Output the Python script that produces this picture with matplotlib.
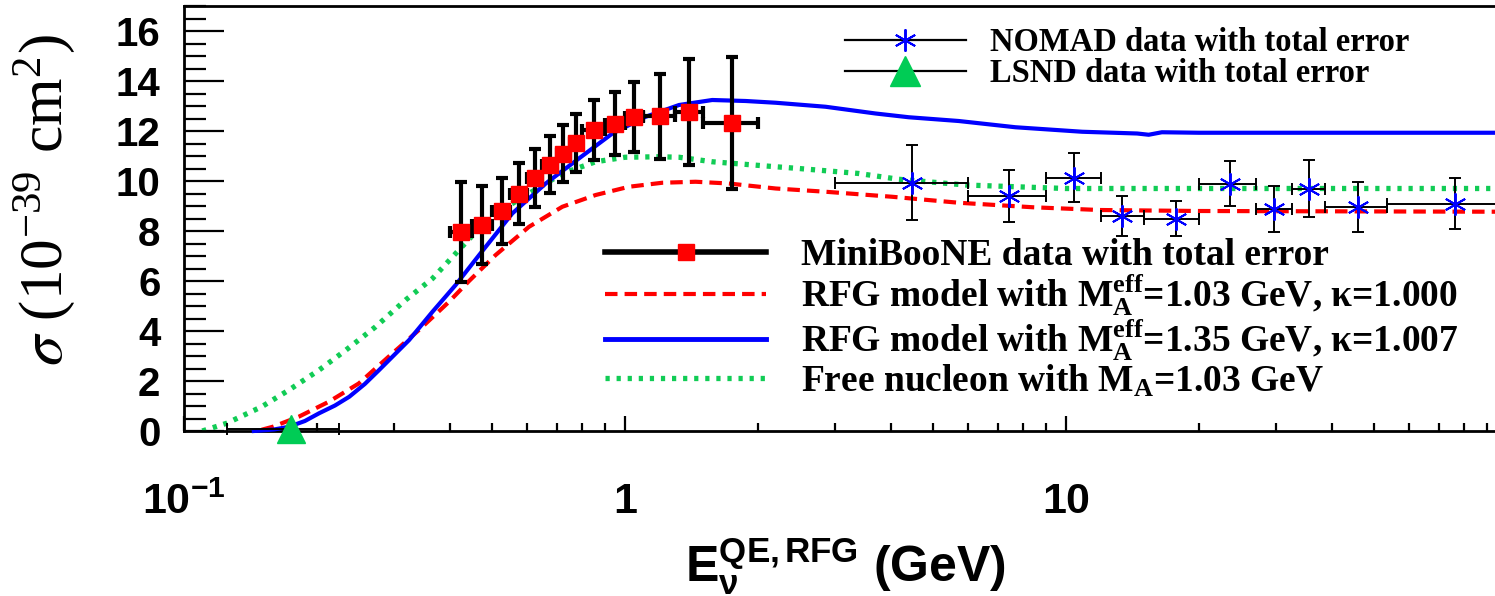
import numpy as np
import matplotlib
matplotlib.use("Agg")
import matplotlib.pyplot as plt
from matplotlib.lines import Line2D
from matplotlib.ticker import FixedLocator, MultipleLocator, NullFormatter, LogLocator

plt.rcParams['mathtext.fontset'] = 'stix'

# ---------------- data ----------------
# MiniBooNE (bin edges, cross section, total error) in 1e-39 cm^2
mb_lo = [0.40, 0.45, 0.50, 0.55, 0.60, 0.65, 0.70, 0.75, 0.80, 0.90, 1.00, 1.10, 1.30, 1.50]
mb_hi = [0.45, 0.50, 0.55, 0.60, 0.65, 0.70, 0.75, 0.80, 0.90, 1.00, 1.10, 1.30, 1.50, 2.00]
mb_xsec = [7.98, 8.25, 8.80, 9.50, 10.13, 10.66, 11.10, 11.53, 12.04, 12.30, 12.57, 12.60, 12.77, 12.33]
mb_err = [2.00, 1.55, 1.33, 1.21, 1.16, 1.15, 1.15, 1.17, 1.20, 1.26, 1.40, 1.70, 2.13, 2.63]

# NOMAD
nomad_lo = [3.0, 6.0, 9.0, 12.0, 15.0, 20.0, 27.0, 32.5, 38.7, 53.4]
nomad_hi = [6.0, 9.0, 12.0, 15.0, 20.0, 27.0, 32.5, 38.7, 53.4, 100.0]
nomad_e = [4.48, 7.43, 10.4, 13.4, 17.8, 23.6, 29.7, 35.6, 45.9, 76.3]
nomad_xsec = [9.94, 9.40, 10.13, 8.62, 8.50, 9.90, 8.89, 9.70, 8.97, 9.10]
nomad_err = [1.50, 1.03, 0.97, 0.80, 0.70, 0.90, 0.92, 1.15, 1.00, 1.03]

# LSND
lsnd_lo = [0.125]
lsnd_hi = [0.2245]
lsnd_e = [0.175]
lsnd_xsec = [0.10]
lsnd_err = [0.05]

# Model curves
rfg103_e = [0.150, 0.159, 0.182, 0.213, 0.249, 0.291, 0.341, 0.399, 0.443, 0.509, 0.606,
            0.721, 0.858, 1.021, 1.215, 1.446, 1.72, 2.197, 2.85, 4.03, 5.71, 8.4, 11.9,
            20.0, 100.0]
rfg103_s = [0.05, 0.17, 0.57, 1.17, 1.90, 2.97, 4.04, 5.17, 6.00, 7.04, 8.17,
            8.97, 9.44, 9.77, 9.93, 9.97, 9.90, 9.70, 9.57, 9.37, 9.13, 8.95, 8.84,
            8.80, 8.77]

rfg135_e = [0.144, 0.160, 0.173, 0.188, 0.2025, 0.22, 0.237, 0.257, 0.277, 0.30, 0.324,
            0.366, 0.413, 0.467, 0.555, 0.661, 0.786, 0.936, 1.114, 1.326, 1.577, 1.878,
            2.197, 2.85, 3.7, 4.4, 5.71, 7.68, 10.88, 14.5, 15.4, 16.5, 20.0, 100.0]
rfg135_s = [0.0, 0.06, 0.17, 0.40, 0.71, 1.02, 1.37, 1.88, 2.44, 3.05, 3.64,
            4.77, 5.84, 7.04, 8.70, 9.90, 10.90, 11.90, 12.57, 13.04, 13.24, 13.20,
            13.13, 12.97, 12.70, 12.55, 12.40, 12.15, 11.97, 11.90, 11.85, 11.95, 11.93, 11.93]

free_e = [0.110, 0.125, 0.150, 0.173, 0.2025, 0.233, 0.272, 0.318, 0.366, 0.413, 0.45,
          0.509, 0.606, 0.721, 0.858, 1.0, 1.194, 1.326, 1.577, 2.197, 2.48, 3.39, 4.17,
          5.92, 10.0, 20.0, 100.0]
free_s = [0.0, 0.31, 0.97, 1.64, 2.44, 3.24, 4.17, 5.24, 6.10, 7.10, 7.80,
          8.70, 9.50, 10.30, 10.77, 10.95, 10.97, 10.95, 10.77, 10.57, 10.50, 10.30, 10.07,
          9.84, 9.70, 9.70, 9.70]

# tick labels
x_major = [0.1, 1, 10, 100]
x_labels = [r'$\mathregular{10^{-1}}$', '1', '10', '']
y_major = [0, 2, 4, 6, 8, 10, 12, 14, 16]

# ---------------- style ----------------
SERIF = 'Liberation Serif'
SANS = 'Liberation Sans'
RED = '#ff0000'
BLUE = '#0000ff'
GREEN = '#11cc55'

fig = plt.figure(figsize=(14.95, 5.96), dpi=100)
ax = fig.add_axes([184 / 1495, 165 / 596, 1323 / 1495, 425 / 596])
ax.set_xscale('log')
ax.set_xlim(0.1, 100)
ax.set_ylim(0, 17)

# curves
ax.plot(free_e, free_s, color=GREEN, lw=3.8, linestyle=(0, (0.8, 1.3)), zorder=2)
ax.plot(rfg103_e, rfg103_s, color=RED, lw=3.0, linestyle=(0, (3.0, 1.7)), zorder=3)
ax.plot(rfg135_e, rfg135_s, color=BLUE, lw=3.0, zorder=4, clip_on=False)

# NOMAD
ne = np.array(nomad_e)
ax.errorbar(ne, nomad_xsec, yerr=nomad_err,
            xerr=[ne - np.array(nomad_lo), np.array(nomad_hi) - ne],
            fmt='none', ecolor='black', elinewidth=1.4, capsize=4, capthick=1.4, zorder=5)
ax.plot(ne, nomad_xsec, linestyle='none', marker=(6, 2, 0), markersize=16,
        markeredgecolor=BLUE, markeredgewidth=1.4, zorder=6)

# LSND
le = np.array(lsnd_e)
ax.errorbar(le, lsnd_xsec, yerr=lsnd_err,
            xerr=[le - np.array(lsnd_lo), np.array(lsnd_hi) - le],
            fmt='none', ecolor='black', elinewidth=1.4, capsize=4, capthick=1.4,
            zorder=5, clip_on=False)
ax.plot(le, lsnd_xsec, linestyle='none', marker='^', markersize=20,
        color='#00cc55', zorder=7, clip_on=False)

# MiniBooNE
mlo = np.array(mb_lo)
mhi = np.array(mb_hi)
mc = 0.5 * (mlo + mhi)
ax.errorbar(mc, mb_xsec, yerr=mb_err, xerr=[mc - mlo, mhi - mc],
            fmt='none', ecolor='black', elinewidth=3.0, capsize=4, capthick=3.0, zorder=8)
ax.plot(mc, mb_xsec, linestyle='none', marker='s', markersize=11,
        color=RED, zorder=9)

# axes styling
for s in ax.spines.values():
    s.set_linewidth(2.0)
ax.xaxis.set_major_locator(FixedLocator(x_major))
ax.set_xticklabels(x_labels)
ax.xaxis.set_minor_locator(LogLocator(base=10, subs=np.arange(2, 10)))
ax.xaxis.set_minor_formatter(NullFormatter())
ax.yaxis.set_major_locator(FixedLocator(y_major))
ax.yaxis.set_minor_locator(MultipleLocator(0.5))
ax.tick_params(axis='both', which='both', direction='in', top=False, right=False, width=1.6)
ax.tick_params(axis='y', which='major', length=29, pad=17)
ax.tick_params(axis='y', which='minor', length=15.5)
ax.tick_params(axis='x', which='major', length=11, pad=37)
ax.tick_params(axis='x', which='minor', length=5.5)
for lab in ax.get_xticklabels():
    lab.set_fontfamily(SANS)
    lab.set_fontweight('bold')
    lab.set_fontsize(31)
for lab in ax.get_yticklabels():
    lab.set_fontfamily(SANS)
    lab.set_fontweight('bold')
    lab.set_fontsize(29)

ax.set_xlabel(r'E$\mathregular{_{ν}^{QE,RFG}}$ (GeV)', fontfamily=SANS,
              fontweight='bold', fontsize=36)
ax.xaxis.set_label_coords(0.5, -0.246)
ax.set_ylabel(r'$\sigma$ (10$^{\mathregular{-39}}$ cm$^{\mathregular{2}}$)',
              fontfamily=SERIF, fontsize=44)
ax.yaxis.set_label_coords(-0.081, 0.545)

# legends
h_nomad = Line2D([], [], color='black', lw=1.6, marker=(6, 2, 0), markersize=16,
                 markeredgecolor=BLUE, markeredgewidth=1.4)
h_lsnd = Line2D([], [], color='black', lw=1.6, marker='^', markersize=22,
                markerfacecolor='#00cc55', markeredgecolor='#00cc55')
leg1 = ax.legend([h_nomad, h_lsnd],
                 ['NOMAD data with total error', 'LSND data with total error'],
                 loc='upper left', frameon=False, borderpad=0, borderaxespad=0,
                 handlelength=3.7, handletextpad=0.75, labelspacing=0.0,
                 prop={'family': SERIF, 'weight': 'bold', 'size': 23.5})
leg1.set_bbox_to_anchor((845 / 1495, 1 - 27 / 596), transform=fig.transFigure)
ax.add_artist(leg1)

h_mb = Line2D([], [], color='black', lw=4.0, marker='s', markersize=12,
              markerfacecolor=RED, markeredgecolor=RED)
h_r = Line2D([], [], color=RED, lw=3.0, linestyle=(0, (3.0, 1.7)))
h_b = Line2D([], [], color=BLUE, lw=3.5)
h_g = Line2D([], [], color=GREEN, lw=3.8, linestyle=(0, (0.8, 1.3)))
leg2 = ax.legend([h_mb, h_r, h_b, h_g],
                 ['MiniBooNE data with total error',
                  r'RFG model with M$\mathregular{_A^{eff}}$=1.03 GeV, κ=1.000',
                  r'RFG model with M$\mathregular{_A^{eff}}$=1.35 GeV, κ=1.007',
                  r'Free nucleon with M$\mathregular{_A}$=1.03 GeV'],
                 loc='upper left', frameon=False, borderpad=0, borderaxespad=0,
                 handlelength=4.3, handletextpad=0.93, labelspacing=0.0,
                 prop={'family': SERIF, 'weight': 'bold', 'size': 27})
leg2.set_bbox_to_anchor((605 / 1495, 1 - 238 / 596), transform=fig.transFigure)

fig.savefig('out.png', dpi=100)
